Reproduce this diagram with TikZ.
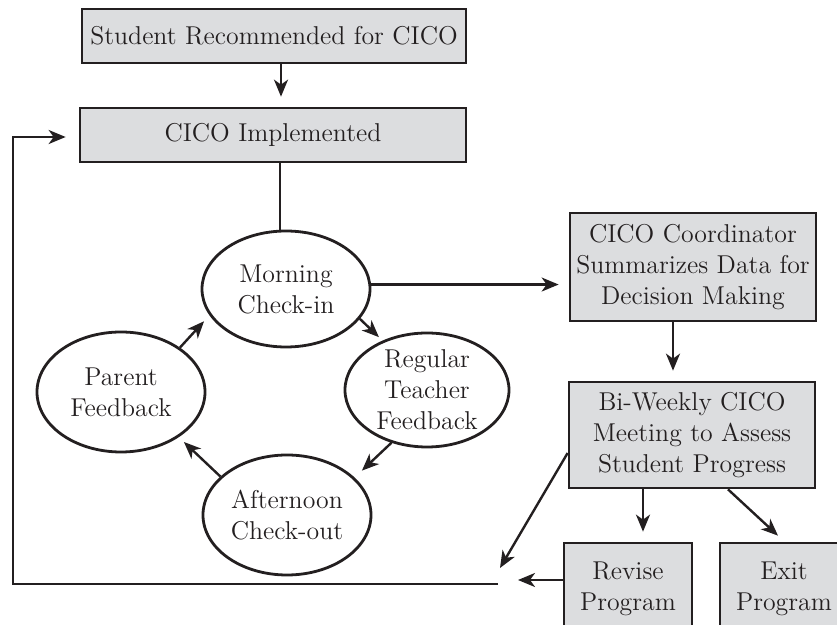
\documentclass[tikz,border=0pt]{standalone}
\usetikzlibrary{arrows.meta,shapes.geometric}
\definecolor{ink}{HTML}{231F20}
\definecolor{boxfill}{HTML}{DCDDDF}
\begin{document}
\begin{tikzpicture}[x=0.5pt,y=-0.5pt,
  every node/.style={font=\fontsize{12.9pt}{15.5pt}\selectfont, text=ink, align=center},
  box/.style={draw=ink, fill=boxfill, line width=1.35pt, rectangle, inner sep=0pt},
  oval/.style={draw=ink, ellipse, line width=1.4pt, inner sep=0pt},
  ln/.style={draw=ink, line width=1.2pt},
  arr/.style={ln, -{Stealth[length=8.5pt,width=7pt,inset=2.5pt]}, shorten >=5pt}]
\useasboundingbox (0,0) rectangle (837,625);
\clip (0,0) rectangle (837,625);
% boxes
\node[box, minimum width=192pt, minimum height=27pt] (b1) at (274,36) {Student Recommended for CICO};
\node[box, minimum width=193pt, minimum height=27pt] (b2) at (273,135) {CICO Implemented};
\node[box, minimum width=123pt, minimum height=54pt] (co) at (693,267) {CICO Coordinator\\Summarizes Data for\\Decision Making};
\node[box, minimum width=123pt, minimum height=53pt] (bw) at (692,435) {Bi-Weekly CICO\\Meeting to Assess\\Student Progress};
\node[box, minimum width=64pt, minimum height=46pt] (rv) at (628,589) {Revise\\Program};
\node[box, minimum width=64pt, minimum height=46pt] (ex) at (784,589) {Exit\\Program};
% ellipses
\node[oval, minimum width=84pt, minimum height=58pt] (mo) at (286,289) {Morning\\Check-in};
\node[oval, minimum width=82pt, minimum height=57pt] (rg) at (427,390) {Regular\\Teacher\\Feedback};
\node[oval, minimum width=84pt, minimum height=60pt] (af) at (287,515) {Afternoon\\Check-out};
\node[oval, minimum width=84pt, minimum height=60pt] (pa) at (121,392) {Parent\\Feedback};
% free ends
\coordinate (dt) at (500,568);
\coordinate (rt) at (518,580);
\coordinate (le) at (498,584);
\coordinate (lc) at (13,137);
% connectors
\draw[arr] ([xshift=3.5pt]b1.south) -- ([xshift=3.5pt]b1.south |- b2.north);
\draw[ln] ([xshift=3.5pt]b2.south) -- ([xshift=3.5pt]b2.south |- mo.north);
\draw[arr] (mo.3) -- (mo.3 -| co.west);
\draw[arr] ([xshift=-10pt]co.south) -- ([xshift=-10pt]co.south |- bw.north);
\draw[arr] ([xshift=-24.5pt]bw.south) -- ([xshift=-24.5pt]bw.south |- rv.north);
\draw[arr, shorten >=0pt] ([xshift=18pt]bw.south) -- ([xshift=-3pt,yshift=3pt]ex.north);
\draw[arr, shorten >=0pt] ([yshift=-9pt]bw.west) -- (dt);
\draw[arr, shorten >=0pt] (rv.west |- rt) -- (rt);
\draw[arr, shorten >=6.5pt] (le) -- (le -| lc) -- (lc) -- (lc -| b2.west);
% cycle
\draw[arr, shorten >=2.5pt] (mo.-22) -- (rg.132);
\draw[arr, shorten >=5pt] (rg.-124) -- (af.29);
\draw[arr, shorten >=3.5pt] (af.150) -- (pa.-38);
\draw[arr, shorten >=4pt] (pa.37) -- (mo.-161);
\end{tikzpicture}
\end{document}
